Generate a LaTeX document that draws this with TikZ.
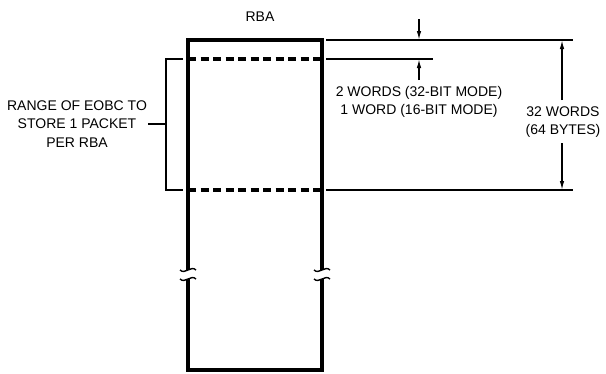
\documentclass[tikz,border=0pt]{standalone}
\usepackage{fontspec}
\setmainfont{Liberation Sans}
\usetikzlibrary{arrows.meta}

\tikzset{
	wall/.style={line width=4pt},
	fillmark/.style={line width=3.5pt, dash pattern=on 8pt off 4.5pt},
	thin/.style={line width=1.3pt},
	dimarrow/.style={line width=1.3pt, -{Latex[length=9pt,width=4.5pt]}},
	breakmark/.style={line width=1.4pt},
	label/.style={inner sep=0pt, align=center, font=\fontsize{14}{18.5}\selectfont}
}

\begin{document}
\begin{tikzpicture}[x=1pt, y=-1pt]
	\useasboundingbox (0,0) rectangle (606,373);

		%corners of the block
	\coordinate (tl) at (188,40);
	\coordinate (tr) at (322,40);
	\coordinate (bl) at (188,370);
	\coordinate (br) at (322,370);
	\coordinate (gapl) at (188,270);
	\coordinate (gapr) at (322,270);
	\coordinate (resl) at (188,279);
	\coordinate (resr) at (322,279);

	\draw[wall] (gapl) -- (tl) -- (tr) -- (gapr);
	\draw[wall] (resl) -- (bl) -- (br) -- (resr);

		%break marks
	\foreach \x in {188,322} {
		\foreach \y in {270,279} {
			\draw[breakmark] (\x-8,\y) .. controls (\x-3,\y+5) and (\x+3,\y-5) .. (\x+8,\y);
		}
	}

		%packet range
	\coordinate (upl) at (188,59);
	\coordinate (upr) at (322,59);
	\coordinate (lowl) at (188,190);
	\coordinate (lowr) at (322,190);
	\draw[fillmark] (upl) -- (upr);
	\draw[fillmark] (lowl) -- (lowr);

	\node[label] (rba) at (260,17) {RBA};

		%bracket
	\node[label] (range) at (77,124) {RANGE OF EOBC TO\\STORE 1 PACKET\\PER RBA};
	\coordinate (brtop) at (166,59);
	\coordinate (brbot) at (166,190);
	\coordinate (brmid) at (166,124);
	\draw[thin] (183,59) -- (brtop) -- (brbot) -- (183,190);
	\draw[thin] (brmid) -- (148,124);

		%extension lines
	\coordinate (ext1) at (573,40);
	\coordinate (ext2) at (433,59);
	\coordinate (ext3) at (573,190);
	\draw[thin] (326,40) -- (ext1);
	\draw[thin] (326,59) -- (ext2);
	\draw[thin] (326,190) -- (ext3);

		%offset dimension
	\node[label] (offset) at (419,102) {2 WORDS (32-BIT MODE)\\1 WORD (16-BIT MODE)};
	\coordinate (offtop) at (419,19);
	\draw[dimarrow] (offtop) -- (419,40);
	\draw[dimarrow] (419,80) -- (419,59);

		%size dimension
	\node[label] (size) at (563,122) {32 WORDS\\(64 BYTES)};
	\draw[dimarrow] (562,100) -- (562,40);
	\draw[dimarrow] (562,143) -- (562,190);
\end{tikzpicture}
\end{document}
